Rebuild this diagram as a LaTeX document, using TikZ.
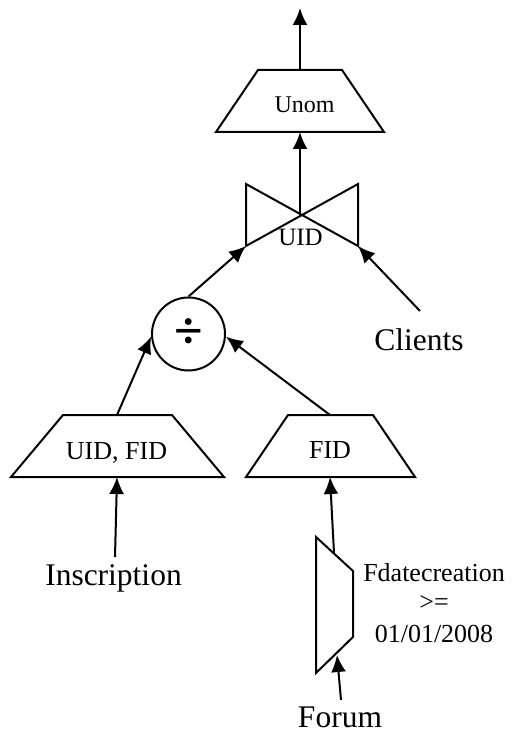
\documentclass[tikz,border=0pt]{standalone}
\usepackage{fontspec}
\setmainfont{Liberation Serif}
\usetikzlibrary{arrows.meta}
\begin{document}
\begin{tikzpicture}[x=1pt,y=-1pt,
  op/.style={draw,line width=2pt,line join=miter},
  arr/.style={line width=2pt,-{Latex[length=17pt,width=15pt]}},
  small/.style={anchor=base,inner sep=0pt,font=\fontsize{26}{30}\selectfont},
  big/.style={anchor=base,inner sep=0pt,font=\fontsize{31.5}{36}\selectfont}]
\useasboundingbox (0,0) rectangle (511,735);

% projection on Unom
\draw[op] (258,70) -- (342,70) -- (384,132) -- (216,132) -- cycle;
\coordinate (unomT) at (300,70);
\coordinate (unomB) at (300,132);
\coordinate (out) at (300,8);
\node[small,font=\fontsize{24}{28}\selectfont] (unom) at (304.5,113) {Unom};

% join on UID
\draw[op] (246,184) -- (358,246) -- (358,184) -- (246,246) -- cycle;
\coordinate (joinC) at (300,214);
\coordinate (joinL) at (246,246);
\coordinate (joinR) at (358,246);
\node[small,font=\fontsize{25}{30}\selectfont] (uid) at (300.5,245) {UID};

% division
\node[draw,circle,line width=2pt,minimum size=73pt,inner sep=0pt,
  font=\fontsize{52}{52}\selectfont\bfseries] (div) at (188.5,334) {\raisebox{-2pt}{÷}};

% projection on UID, FID
\draw[op] (63,415) -- (172,415) -- (224,477) -- (11,477) -- cycle;
\coordinate (ufT) at (117,415);
\coordinate (ufB) at (117,477);
\node[small] (uf) at (116.5,459) {UID, FID};

% projection on FID
\draw[op] (288,415) -- (373,415) -- (415,477) -- (246,477) -- cycle;
\coordinate (fidT) at (330,415);
\coordinate (fidB) at (330,477);
\node[small] (fid) at (330,458) {FID};

% selection on Forum
\draw[op] (316,537) -- (353,571) -- (353,637) -- (316,673) -- cycle;
\coordinate (selT) at (334,553);
\coordinate (selB) at (337,655);
\node[small] (cond1) at (434,581) {Fdatecreation};
\node[small] (cond2) at (434,610) {>=};
\node[small] (cond3) at (434,642) {01/01/2008};

% relations
\node[big] (clients) at (419,350) {Clients};
\node[big] (inscription) at (113.5,585) {Inscription};
\node[big] (forum) at (340,727) {Forum};
\coordinate (clientsT) at (420,311);
\coordinate (inscriptionT) at (115,557);
\coordinate (forumT) at (341,700);

% data flow
\draw[arr] (unomT) -- (out);
\draw[arr] (joinC) -- (unomB);
\draw[arr] (div.north) -- (joinL);
\draw[arr] (clientsT) -- (joinR);
\draw[arr] (ufT) -- (div.184);
\draw[arr] (fidT) -- (div.356);
\draw[arr] (inscriptionT) -- (ufB);
\draw[arr] (selT) -- (fidB);
\draw[arr] (forumT) -- (selB);
\end{tikzpicture}
\end{document}
